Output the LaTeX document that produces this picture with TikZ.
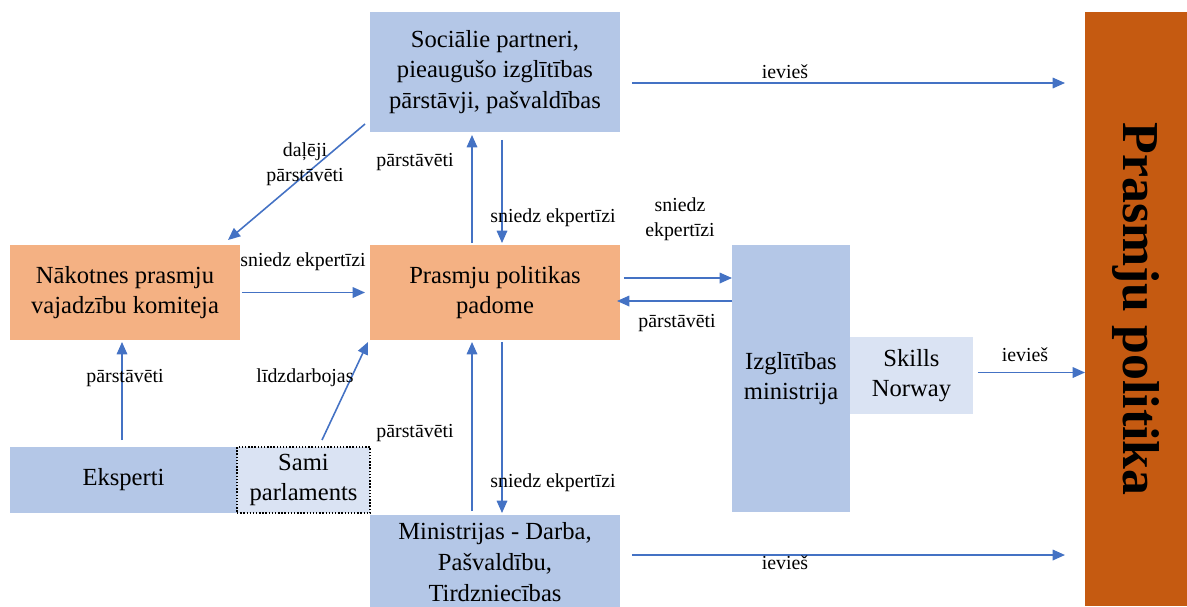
\documentclass[tikz,border=0pt]{standalone}
\usepackage{fontspec}
\setmainfont{Liberation Serif}
\usetikzlibrary{positioning,calc,arrows.meta}
\definecolor{boxblue}{HTML}{B4C7E7}
\definecolor{boxpale}{HTML}{DAE3F3}
\definecolor{boxorange}{HTML}{F4B183}
\definecolor{polorange}{HTML}{C55A11}
\definecolor{arrblue}{HTML}{4472C4}
\begin{document}
\begin{tikzpicture}[x=0.02cm,y=-0.02cm,inner sep=0pt,outer sep=0pt,
box/.style={rectangle,align=center,font=\fontsize{14}{17.5}\selectfont},
bluebox/.style={box,fill=boxblue},
palebox/.style={box,fill=boxpale},
orangebox/.style={box,fill=boxorange},
lbl/.style={align=center,font=\fontsize{11.3}{14}\selectfont},
arr/.style={draw=arrblue,line width=0.9pt,-{Triangle[length=7pt,width=6pt]}}]

\useasboundingbox (0,0) rectangle (1187,606);

\draw (495,72) node[bluebox,minimum width=5cm,minimum height=2.4cm] (soc) {Sociālie partneri,\\pieaugušo izglītības\\pārstāvji, pašvaldības};
\draw (125,292.5) node[orangebox,minimum width=4.6cm,minimum height=1.9cm] (nak) {Nākotnes prasmju\\vajadzību komiteja};
\draw (495,292.5) node[orangebox,minimum width=5cm,minimum height=1.9cm] (pad) {Prasmju politikas\\padome};
\draw (791,378.5) node[bluebox,minimum width=2.36cm,minimum height=5.34cm] (izg) {Izglītības\\ministrija};
\draw (911.5,375.5) node[palebox,minimum width=2.46cm,minimum height=1.54cm] (skn) {Skills\\Norway};
\draw (123.5,480) node[bluebox,minimum width=4.54cm,minimum height=1.32cm] (eks) {Eksperti};
\draw (303.5,480) node[palebox,draw=black,densely dotted,line width=0.8pt,minimum width=2.66cm,minimum height=1.32cm] (sami) {Sami\\parlaments};
\draw (495,562) node[bluebox,minimum width=5cm,minimum height=1.88cm] (min) {Ministrijas - Darba,\\Pašvaldību,\\Tirdzniecības};
\draw (1136,309) node[rectangle,fill=polorange,minimum width=2.04cm,minimum height=11.88cm] (pp) {};
\node[rotate=-90,font=\fontsize{29.5}{32}\selectfont\bfseries] (pptxt) at (pp.center) {Prasmju politika};

% ievies
\draw[arr] ($(soc.east)+(12,11)$) -- ($(pp.west |- soc.east)+(-20,11)$);
\draw[arr] ($(min.east)+(12,-7)$) -- ($(pp.west |- min.east)+(-20,-7)$);
\draw[arr] ($(skn.east)+(5,-3)$) -- ($(pp.west |- skn.east)+(0,-3)$);
\node[lbl] (l1) at (785,72) {ievieš};
\node[lbl] (l2) at (785,563) {ievieš};
\node[lbl] (l3) at (1025,355) {ievieš};

% ap padomi
\draw[arr] ($(soc.south west)+(-5,-8)$) -- ($(nak.north east)+(-12,-5)$);
\node[lbl] (l4) at (305,164) {daļēji\\pārstāvēti};
\draw[arr] ($(pad.north)+(-23,-2)$) -- ($(soc.south)+(-23,3)$);
\node[lbl] (l5) at (415,162) {pārstāvēti};
\draw[arr] ($(soc.south)+(7,8)$) -- ($(pad.north)+(7,-2)$);
\node[lbl] (l6) at (553,218) {sniedz ekpertīzi};
\draw[arr] ($(nak.east)+(2,0)$) -- ($(pad.west)+(-5,0)$);
\node[lbl] (l7) at (303,262) {sniedz ekpertīzi};
\draw[arr] ($(pad.east)+(4,-14.5)$) -- ($(izg.west |- pad.east)+(0,-14.5)$);
\node[lbl] (l8) at (680,219) {sniedz\\ekpertīzi};
\draw[arr] ($(izg.west |- pad.east)+(0,8.5)$) -- ($(pad.east)+(-3,8.5)$);
\node[lbl] (l9) at (677,323) {pārstāvēti};

% no apaksas
\draw[arr] ($(eks.north -| nak.south)+(-3,-7)$) -- ($(nak.south)+(-3,2)$);
\node[lbl] (l10) at (125,378) {pārstāvēti};
\draw[arr] ($(sami.north)+(18.5,-7)$) -- ($(pad.south west)+(-2,2)$);
\node[lbl] (l11) at (305,378) {līdzdarbojas};
\draw[arr] ($(min.north)+(-23,-4)$) -- ($(pad.south)+(-23,2)$);
\node[lbl] (l12) at (415,433) {pārstāvēti};
\draw[arr] ($(pad.south)+(7,2)$) -- ($(min.north)+(7,-2)$);
\node[lbl] (l13) at (553,483) {sniedz ekpertīzi};
\end{tikzpicture}
\end{document}
